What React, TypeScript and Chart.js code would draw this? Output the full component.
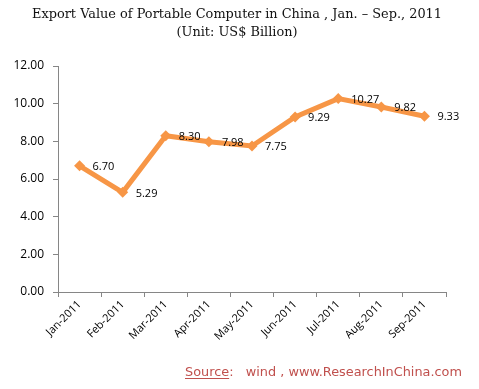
import React, { useEffect, useRef } from "react";
import { Chart, registerables } from "chart.js";

Chart.register(...registerables);

const categories = ["Jan-2011", "Feb-2011", "Mar-2011", "Apr-2011", "May-2011", "Jun-2011", "Jul-2011", "Aug-2011", "Sep-2011"];
const exportValues = [6.70, 5.29, 8.30, 7.98, 7.75, 9.29, 10.27, 9.82, 9.33];
const titleLines = ["Export Value of Portable Computer in China , Jan. \u2013 Sep., 2011", "(Unit: US$ Billion)"];
const sourcePrefix = "Source:";
const sourceRest = "   wind , www.ResearchInChina.com";

const ORANGE = "#f79646";

const decorPlugin = {
  id: "decor",
  afterDatasetsDraw(chart: any) {
    const ctx = chart.ctx;
    const meta = chart.getDatasetMeta(0);
    ctx.save();
    ctx.fillStyle = "#000";
    ctx.font = "11px 'Open Sans', 'DejaVu Sans', sans-serif";
    ctx.textAlign = "left";
    ctx.textBaseline = "middle";
    meta.data.forEach((pt: any, i: number) => {
      ctx.fillText(exportValues[i].toFixed(2), pt.x + 13, pt.y + 1);
    });
    ctx.restore();
  },
  afterDraw(chart: any) {
    const ctx = chart.ctx;
    ctx.save();
    ctx.fillStyle = "#111";
    ctx.font = "13px 'DejaVu Serif', serif";
    ctx.textAlign = "center";
    ctx.textBaseline = "middle";
    const w0 = ctx.measureText(titleLines[0]).width;
    const target = 410;
    ctx.save();
    ctx.translate(237, 15);
    ctx.scale(target / w0, 1);
    ctx.fillText(titleLines[0], 0, 0);
    ctx.restore();
    ctx.save();
    ctx.translate(237, 33);
    ctx.scale(target / w0, 1);
    ctx.fillText(titleLines[1], 0, 0);
    ctx.restore();
    // source
    ctx.font = "12px 'DejaVu Sans', sans-serif";
    ctx.textAlign = "left";
    ctx.textBaseline = "alphabetic";
    ctx.fillStyle = "#c0504d";
    const full = sourcePrefix + sourceRest;
    const wf = ctx.measureText(full).width;
    const sx = 277 / wf;
    const x0 = 185;
    const yb = 376;
    ctx.save();
    ctx.translate(x0, yb);
    ctx.scale(sx, 1);
    ctx.fillText(full, 0, 0);
    const w1 = ctx.measureText(sourcePrefix.slice(0, -1)).width;
    ctx.fillRect(0, 2, w1, 1);
    ctx.restore();
    ctx.restore();
  },
};

export default function App() {
  const ref = useRef<HTMLCanvasElement>(null);
  useEffect(() => {
    if (!ref.current) return;
    const chart = new Chart(ref.current, {
      type: "line",
      data: {
        labels: categories,
        datasets: [
          {
            data: exportValues,
            borderColor: ORANGE,
            backgroundColor: ORANGE,
            borderWidth: 5,
            pointStyle: "rectRot",
            pointRadius: 5.5,
            pointBorderWidth: 0,
            pointBackgroundColor: ORANGE,
            tension: 0,
            fill: false,
          },
        ],
      },
      options: {
        responsive: false,
        animation: false,
        devicePixelRatio: 1,
        layout: { padding: { left: 0, right: 33, top: 66, bottom: 0 } },
        plugins: { legend: { display: false }, title: { display: false }, tooltip: { enabled: false } },
        scales: {
          x: {
            type: "category",
            offset: true,
            grid: { offset: true, drawOnChartArea: false, color: "#868686", tickLength: 5 },
            border: { color: "#868686", width: 1 },
            ticks: {
              color: "#000",
              font: { size: 11, family: "'Open Sans', 'DejaVu Sans', sans-serif" },
              minRotation: 45,
              maxRotation: 45,
              autoSkip: false,
              padding: 1,
            },
            afterFit(scale: any) {
              scale.height = 97;
            },
          },
          y: {
            min: 0,
            max: 12,
            grid: { drawOnChartArea: false, color: "#868686", tickLength: 5 },
            border: { color: "#868686", width: 1 },
            ticks: {
              stepSize: 2,
              color: "#000",
              padding: 9,
              font: { size: 12, family: "'Open Sans', 'DejaVu Sans', sans-serif" },
              callback: (v: any) => Number(v).toFixed(2),
            },
            afterFit(scale: any) {
              scale.width = 58;
            },
          },
        },
      },
      plugins: [decorPlugin],
    });
    return () => chart.destroy();
  }, []);
  return (
    <div style={{ position: "fixed", left: 0, top: 0, width: 479, height: 389, background: "#fff" }}>
      <canvas ref={ref} width={479} height={389} />
    </div>
  );
}
